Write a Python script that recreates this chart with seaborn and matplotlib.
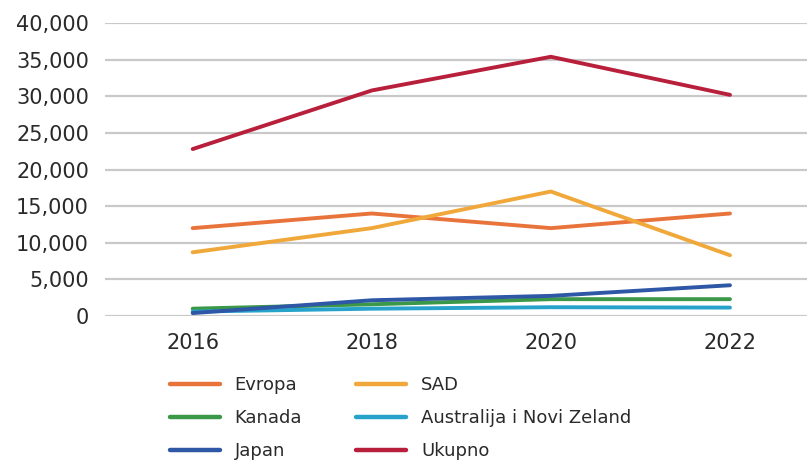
import matplotlib
matplotlib.use("Agg")
import matplotlib.pyplot as plt
import matplotlib.ticker as mticker
import seaborn as sns
import pandas as pd

years = [2016, 2018, 2020, 2022]
evropa = [12000, 14000, 12000, 14000]
sad = [8700, 12000, 17000, 8300]
kanada = [1000, 1600, 2300, 2300]
australija = [600, 1000, 1200, 1150]
japan = [400, 2150, 2750, 4200]
ukupno = [22800, 30800, 35400, 30200]

series_names = ["Evropa", "SAD", "Kanada", "Australija i Novi Zeland", "Japan", "Ukupno"]
series_values = [evropa, sad, kanada, australija, japan, ukupno]
colors = ["#E8743B", "#F0A83A", "#3A9848", "#27A3CB", "#2E57A5", "#B71F3B"]

rows = []
for name, vals in zip(series_names, series_values):
    for yr, v in zip(years, vals):
        rows.append({"Godina": yr, "Vrijednost": v, "Serija": name})
df = pd.DataFrame(rows)

sns.set_theme(style="white")
plt.rcParams["font.family"] = ["DejaVu Sans"]

fig = plt.figure(figsize=(8.07, 4.62), dpi=100)
ax = fig.add_axes([0.130, 0.316, 0.870, 0.634])

sns.lineplot(data=df, x="Godina", y="Vrijednost", hue="Serija",
             hue_order=series_names, palette=colors, linewidth=2.8,
             ax=ax, zorder=3)

ax.set_ylim(0, 40000)
ax.set_xlim(2015.02, 2022.86)
ax.set_yticks(range(0, 40001, 5000))
ax.yaxis.set_major_formatter(mticker.FuncFormatter(lambda v, p: f"{int(v):,}"))
ax.set_xticks(years)
ax.grid(axis="y", color="#c9c9c9", linewidth=1.6, zorder=0)
ax.grid(axis="x", visible=False)
for s in ax.spines.values():
    s.set_visible(False)
ax.tick_params(axis="y", labelsize=15, pad=11.5, colors="#2a2a2a", length=0)
ax.tick_params(axis="x", labelsize=15, pad=12, colors="#2a2a2a", length=0)
ax.set_xlabel("")
ax.set_ylabel("")

handles, labels = ax.get_legend_handles_labels()
ax.get_legend().remove()
order = ["Evropa", "Kanada", "Japan", "SAD", "Australija i Novi Zeland", "Ukupno"]
hmap = dict(zip(labels, handles))
leg = fig.legend([hmap[k] for k in order], order, ncol=2, loc="upper left",
                 bbox_to_anchor=(170 / 807, 1 - 376 / 462), frameon=False,
                 fontsize=13, handlelength=2.75, handletextpad=0.83,
                 columnspacing=3.0, labelspacing=0.83,
                 borderpad=0, borderaxespad=0)
for line in leg.get_lines():
    line.set_linewidth(3.2)
for t in leg.get_texts():
    t.set_color("#2a2a2a")

fig.savefig("out.png", dpi=100)
